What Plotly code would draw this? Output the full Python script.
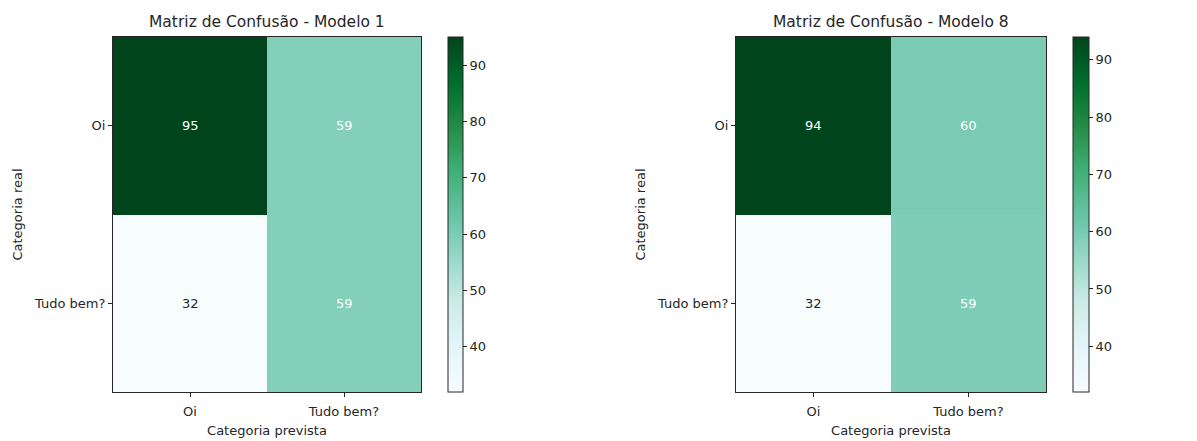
import plotly.graph_objects as go

# Class labels (predicted on x, actual on y)
labels = ["Oi", "Tudo bem?"]

# Confusion matrices: rows = actual, columns = predicted
cm_model1 = [[95, 59],
             [32, 59]]
cm_model8 = [[94, 60],
             [32, 59]]

titles = ["Matriz de Confusão - Modelo 1", "Matriz de Confusão - Modelo 8"]
cbar_ticks = [40, 50, 60, 70, 80, 90]

# Matplotlib-style BuGn colour ramp
bugn = [
    [0.000, "#f7fcfd"], [0.125, "#e5f5f9"], [0.250, "#ccece6"],
    [0.375, "#99d8c9"], [0.500, "#66c2a4"], [0.625, "#41ae76"],
    [0.750, "#238b45"], [0.875, "#006d2c"], [1.000, "#00441b"],
]

W, H = 1197, 441
FONT = "DejaVu Sans"
INK = "#262626"

def fx(px):
    return px / W

def fy(py):
    return 1 - py / H

# panel geometry in pixels: (plot left, plot right, colorbar left, colorbar width)
panels = [
    (113, 421, 448, 15),
    (736, 1046, 1073, 16),
]
top, bottom = 37, 392

fig = go.Figure()
mats = [cm_model1, cm_model8]

for i, (cm, (pl, pr, cl, cw)) in enumerate(zip(mats, panels)):
    sfx = "" if i == 0 else str(i + 1)
    flat = [v for row in cm for v in row]
    zmin, zmax = min(flat), max(flat)
    fig.add_trace(go.Heatmap(
        z=cm, x=labels, y=labels,
        colorscale=bugn, zmin=zmin, zmax=zmax,
        xaxis="x" + sfx, yaxis="y" + sfx,
        xgap=0, ygap=0, hoverinfo="z",
        colorbar=dict(
            x=fx(cl), xanchor="left", xref="paper",
            y=fy((top + bottom) / 2), yanchor="middle",
            len=(bottom - top) / H, lenmode="fraction",
            xpad=0, ypad=0,
            thickness=cw, thicknessmode="pixels",
            outlinewidth=1, outlinecolor=INK,
            tickvals=cbar_ticks, ticks="outside", ticklen=4,
            tickcolor=INK, tickwidth=1,
            tickfont=dict(family=FONT, size=13, color=INK),
        ),
    ))
    fig.update_layout(**{
        "xaxis" + sfx: dict(
            domain=[fx(pl), fx(pr)], anchor="y" + sfx,
            type="category", showgrid=False, zeroline=False,
            showline=True, linecolor=INK, linewidth=1, mirror=True,
            ticks="outside", ticklen=4, tickcolor=INK,
            ticklabelstandoff=3,
            tickfont=dict(family=FONT, size=13, color=INK),
            title=dict(text="Categoria prevista", standoff=8,
                       font=dict(family=FONT, size=13, color=INK)),
        ),
        "yaxis" + sfx: dict(
            domain=[fy(bottom), fy(top)], anchor="x" + sfx,
            type="category", autorange="reversed",
            showgrid=False, zeroline=False,
            showline=True, linecolor=INK, linewidth=1, mirror=True,
            ticks="outside", ticklen=4, tickcolor=INK,
            tickfont=dict(family=FONT, size=13, color=INK),
            title=dict(text="Categoria real", standoff=8,
                       font=dict(family=FONT, size=13, color=INK)),
        ),
    })
    # cell values; light text on cells above half of the maximum
    thresh = zmax / 2
    for r, actual in enumerate(labels):
        for c, pred in enumerate(labels):
            v = cm[r][c]
            fig.add_annotation(
                x=pred, y=actual, xref="x" + sfx, yref="y" + sfx,
                text=str(v), showarrow=False,
                font=dict(family=FONT, size=13,
                          color="white" if v > thresh else INK),
            )
    # panel title
    fig.add_annotation(
        x=fx((pl + pr) / 2), y=fy(22), xref="paper", yref="paper",
        text=titles[i], showarrow=False, xanchor="center", yanchor="middle",
        font=dict(family=FONT, size=15.5, color=INK),
    )

fig.update_layout(
    width=W, height=H,
    margin=dict(l=0, r=0, t=0, b=0),
    paper_bgcolor="white", plot_bgcolor="white",
    showlegend=False,
)

fig.write_html("out.html")
